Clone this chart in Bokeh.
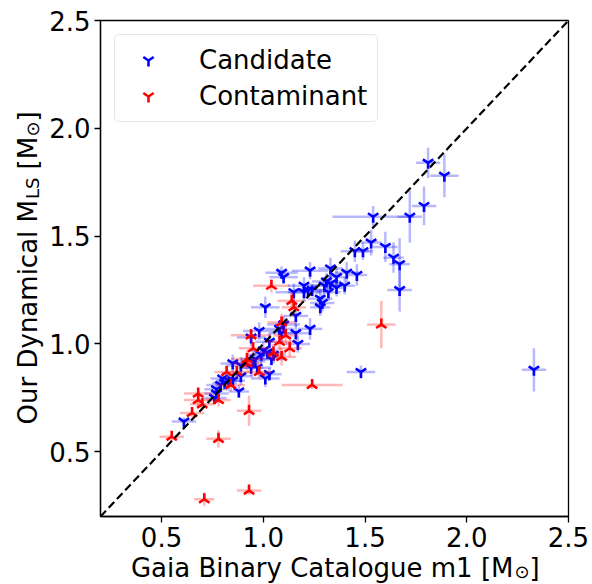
import math
from bokeh.plotting import figure
from bokeh.layouts import row, column
from bokeh.models import (Range1d, FixedTicker, PrintfTickFormatter, Label,
                          Legend, LegendItem, ColumnDataSource)
from bokeh.embed import file_html
from bokeh.resources import INLINE

FONT = "DejaVu Sans"

# Candidate systems: catalogue primary mass, dynamical mass, and 1-sigma errors
cand_m1 = [1.81, 1.89, 1.79, 1.72, 1.54, 1.53, 1.60, 1.64, 1.67, 1.67,
           1.45, 1.49, 1.41, 1.46, 1.40, 2.33, 1.48, 1.09, 1.10, 1.23,
           1.33, 1.36, 1.31, 1.33, 1.36, 1.30, 1.32, 1.20, 1.22, 1.20,
           1.24, 1.15, 1.28, 1.29, 1.28, 1.01, 1.16, 1.10, 1.08, 1.09,
           1.23, 0.98, 1.16, 1.17, 1.03, 0.94, 1.00, 1.02, 1.05, 0.99,
           1.04, 0.96, 0.95, 0.94, 0.97, 0.89, 0.85, 1.03, 1.01, 0.89,
           0.80, 0.83, 0.79, 0.77, 0.88, 0.76, 0.81, 0.85, 0.77, 0.61]
cand_mls = [1.84, 1.78, 1.64, 1.59, 1.59, 1.47, 1.45, 1.40, 1.37, 1.25,
            1.43, 1.43, 1.33, 1.32, 1.27, 0.88, 0.87, 1.33, 1.31, 1.34,
            1.35, 1.31, 1.29, 1.28, 1.26, 1.27, 1.24, 1.27, 1.25, 1.24,
            1.25, 1.24, 1.21, 1.19, 1.17, 1.17, 1.13, 1.09, 1.07, 1.05,
            1.07, 1.06, 1.05, 1.00, 1.01, 1.03, 0.97, 0.96, 0.95, 0.95,
            0.93, 0.93, 0.92, 0.89, 0.89, 0.90, 0.91, 0.86, 0.84, 0.85,
            0.84, 0.83, 0.81, 0.79, 0.78, 0.75, 0.82, 0.83, 0.77, 0.64]
cand_m1_err = [0.06, 0.07, 0.06, 0.06, 0.20, 0.05, 0.06, 0.05, 0.05, 0.06,
               0.07, 0.05, 0.06, 0.05, 0.05, 0.06, 0.07, 0.08, 0.07, 0.09,
               0.06, 0.06, 0.07, 0.06, 0.05, 0.07, 0.06, 0.08, 0.07, 0.08,
               0.06, 0.09, 0.06, 0.06, 0.05, 0.07, 0.06, 0.08, 0.07, 0.06,
               0.06, 0.08, 0.07, 0.06, 0.07, 0.07, 0.07, 0.06, 0.06, 0.07,
               0.06, 0.07, 0.06, 0.06, 0.07, 0.07, 0.06, 0.06, 0.07, 0.06,
               0.06, 0.06, 0.07, 0.06, 0.05, 0.06, 0.06, 0.06, 0.06, 0.06]
cand_mls_err = [0.07, 0.10, 0.09, 0.12, 0.05, 0.06, 0.07, 0.07, 0.12, 0.10,
                0.05, 0.04, 0.05, 0.05, 0.04, 0.10, 0.03, 0.03, 0.03, 0.04,
                0.05, 0.04, 0.04, 0.04, 0.04, 0.04, 0.04, 0.04, 0.03, 0.04,
                0.03, 0.04, 0.04, 0.04, 0.04, 0.05, 0.05, 0.04, 0.04, 0.04,
                0.05, 0.04, 0.04, 0.04, 0.04, 0.04, 0.04, 0.03, 0.04, 0.04,
                0.03, 0.04, 0.04, 0.04, 0.03, 0.04, 0.04, 0.03, 0.04, 0.04,
                0.03, 0.04, 0.03, 0.03, 0.03, 0.03, 0.03, 0.03, 0.03, 0.02]

# Contaminant systems
cont_m1 = [1.04, 1.14, 1.15, 1.09, 1.11, 1.08, 0.94, 1.13, 1.09, 1.05,
           0.95, 0.92, 0.92, 0.98, 0.87, 0.82, 0.84, 1.58, 1.24, 0.78,
           0.68, 0.68, 0.70, 0.65, 0.55, 0.78, 0.93, 0.93, 0.71]
cont_mls = [1.27, 1.20, 1.17, 1.10, 1.04, 1.01, 1.04, 0.98, 0.94, 0.96,
            0.98, 0.93, 0.91, 0.87, 0.87, 0.87, 0.81, 1.09, 0.81, 0.74,
            0.77, 0.74, 0.72, 0.68, 0.57, 0.56, 0.69, 0.32, 0.28]
cont_m1_err = [0.09, 0.07, 0.06, 0.07, 0.06, 0.07, 0.10, 0.06, 0.07, 0.06,
               0.07, 0.08, 0.07, 0.06, 0.06, 0.06, 0.07, 0.07, 0.15, 0.06,
               0.07, 0.07, 0.06, 0.06, 0.06, 0.06, 0.06, 0.06, 0.05]
cont_mls_err = [0.03, 0.04, 0.04, 0.04, 0.04, 0.04, 0.03, 0.04, 0.04, 0.04,
                0.03, 0.04, 0.03, 0.03, 0.03, 0.03, 0.03, 0.11, 0.02, 0.03,
                0.02, 0.03, 0.03, 0.02, 0.02, 0.04, 0.07, 0.02, 0.03]

tick_values = [0.5, 1.0, 1.5, 2.0, 2.5]
one_to_one = [0.2, 2.5]

YLAB_W = 46
MAIN_H = 552
XLAB_H = 584 - MAIN_H

p = figure(width=592 - YLAB_W, height=MAIN_H,
           x_range=Range1d(0.2, 2.5), y_range=Range1d(0.2, 2.5),
           output_backend="svg", toolbar_location=None,
           min_border_left=100 - YLAB_W, min_border_right=24,
           min_border_top=20, min_border_bottom=MAIN_H - 516)

p.grid.visible = False
p.outline_line_color = "black"
p.outline_line_width = 1.3
p.background_fill_color = "white"
p.border_fill_color = "white"

for ax in (p.xaxis[0], p.yaxis[0]):
    ax.ticker = FixedTicker(ticks=tick_values)
    ax.formatter = PrintfTickFormatter(format="%.1f")
    ax.major_tick_out = 6
    ax.major_tick_in = 0
    ax.minor_tick_line_color = None
    ax.axis_line_color = "black"
    ax.axis_line_width = 1.3
    ax.major_tick_line_width = 1.3
    ax.major_label_text_font = FONT
    ax.major_label_text_font_size = "26px"
    ax.major_label_text_color = "black"
    ax.major_label_standoff = 4


def add_series(xs, ys, xe, ye, color, angle):
    src = ColumnDataSource(dict(
        x=xs, y=ys,
        xlo=[a - e for a, e in zip(xs, xe)], xhi=[a + e for a, e in zip(xs, xe)],
        ylo=[b - e for b, e in zip(ys, ye)], yhi=[b + e for b, e in zip(ys, ye)],
    ))
    p.segment(x0="xlo", y0="y", x1="xhi", y1="y", source=src,
              line_color=color, line_alpha=0.28, line_width=2.5)
    p.segment(x0="x", y0="ylo", x1="x", y1="yhi", source=src,
              line_color=color, line_alpha=0.28, line_width=2.5)
    return p.scatter("x", "y", source=src, marker="y", size=12,
                     angle=angle, angle_units="rad",
                     line_color=color, line_width=2.6)


# candidates: downward tri ("Y"); contaminants: the same mark turned upside down
r_cand = add_series(cand_m1, cand_mls, cand_m1_err, cand_mls_err, "blue", 0.0)
r_cont = add_series(cont_m1, cont_mls, cont_m1_err, cont_mls_err, "red", math.pi)

p.line(one_to_one, one_to_one, line_color="black", line_width=2.2,
       line_dash="8 4")

legend = Legend(items=[LegendItem(label="Candidate", renderers=[r_cand]),
                       LegendItem(label="Contaminant", renderers=[r_cont])],
                location="top_left")
legend.margin = 14
legend.padding = 10
legend.spacing = 6
legend.label_height = 30
legend.glyph_height = 30
legend.glyph_width = 46
legend.label_standoff = 28
legend.label_text_font = FONT
legend.label_text_font_size = "26px"
legend.label_text_color = "black"
legend.border_line_color = "#cccccc"
legend.border_line_width = 1
legend.background_fill_alpha = 0.8
if "border_radius" in legend.properties():
    legend.border_radius = 5
p.add_layout(legend)


def blank_panel(w, h):
    f = figure(width=w, height=h, x_range=Range1d(0, 1), y_range=Range1d(0, 1),
               output_backend="svg", toolbar_location=None,
               x_axis_type=None, y_axis_type=None, min_border=0)
    f.grid.visible = False
    f.outline_line_color = None
    f.background_fill_color = "white"
    f.border_fill_color = "white"
    return f


def label(fig, x, y, text, size="26px", align="left", angle=0.0):
    fig.add_layout(Label(x=x, y=y, x_units="screen", y_units="screen", text=text,
                         text_font=FONT, text_font_size=size, text_color="black",
                         text_align=align, text_baseline="alphabetic",
                         angle=angle))


# y-axis title: Our Dynamical M_LS [M_sun], rotated to read upward
ylab = blank_panel(YLAB_W, MAIN_H)
up = math.pi / 2
label(ylab, 27, 316.5, "Our Dynamical M", align="right", angle=up)
label(ylab, 32, 317.5, "LS", size="18px", angle=up)
label(ylab, 27, 347, "[M", angle=up)
label(ylab, 32, 380, "\u2299", size="18px", angle=up)
label(ylab, 27, 395, "]", angle=up)

# x-axis title: Gaia Binary Catalogue m1 [M_sun]
xlab = blank_panel(592, XLAB_H)
label(xlab, 513, 17, "Gaia Binary Catalogue m1 [M", align="right")
label(xlab, 514, 13, "\u2299", size="18px")
label(xlab, 529, 17, "]")

page = column(row(ylab, p, spacing=0), xlab, spacing=0)

open("out.html", "w").write(file_html(page, INLINE))
